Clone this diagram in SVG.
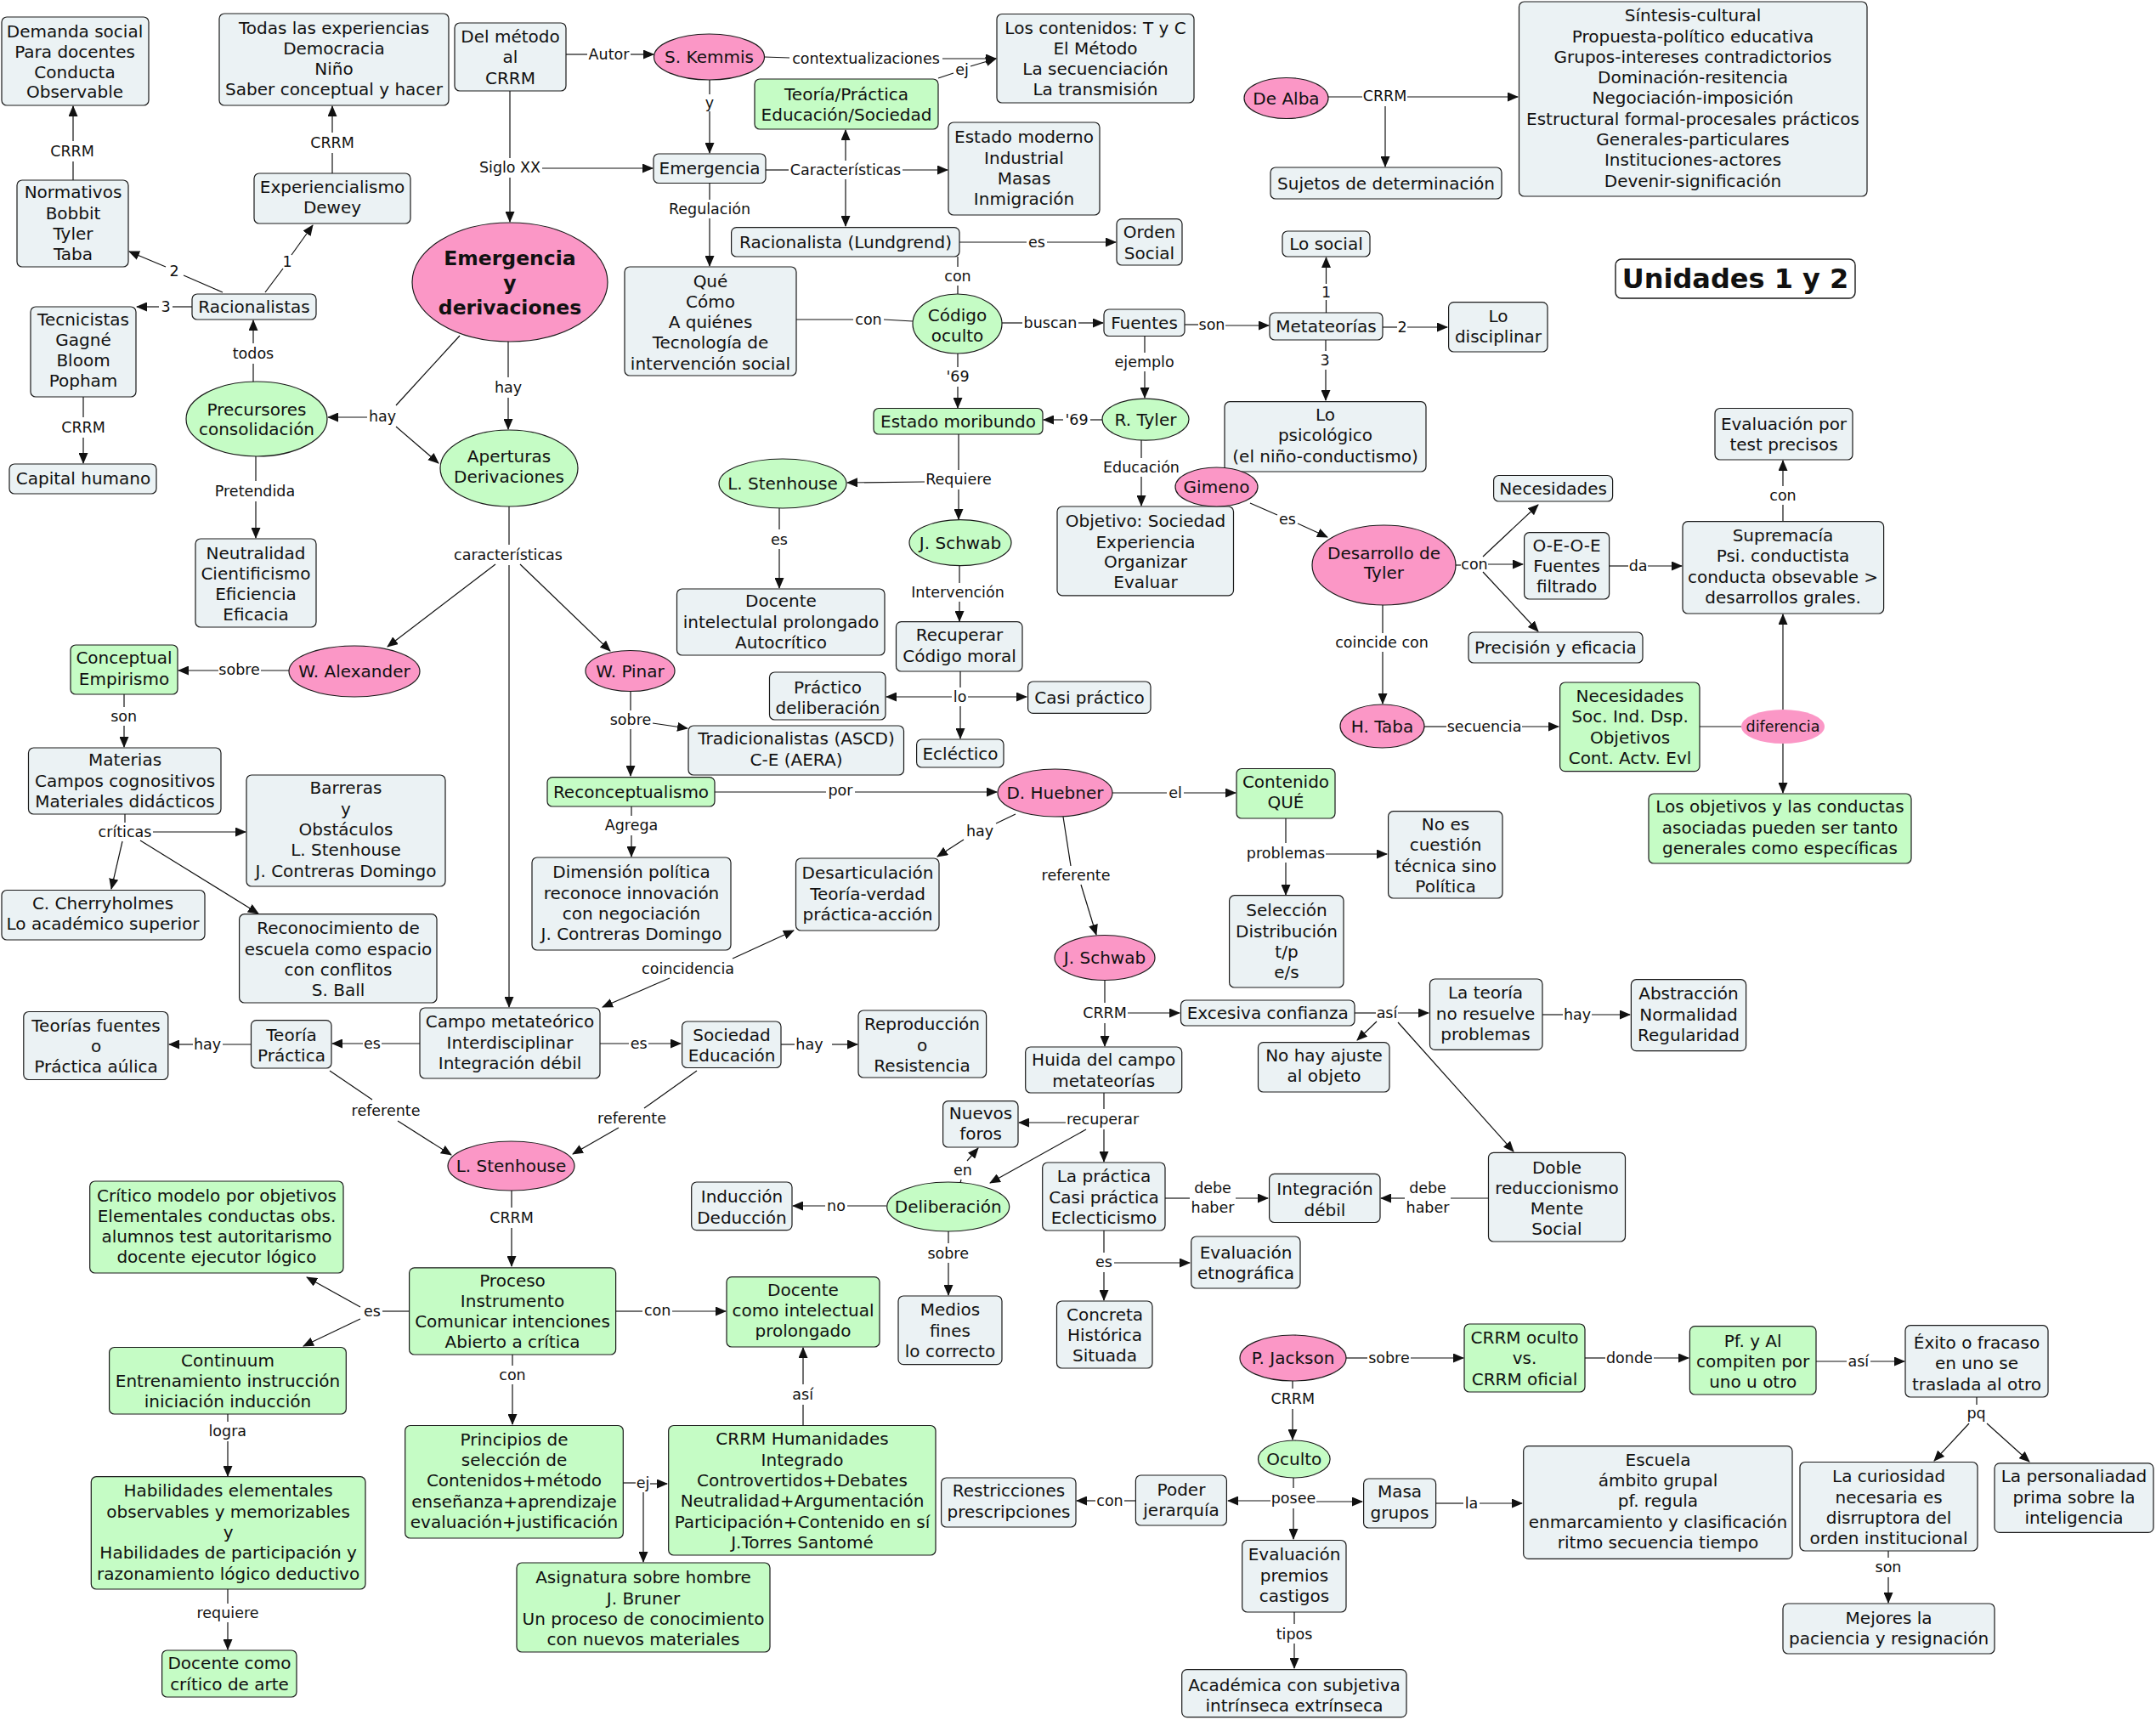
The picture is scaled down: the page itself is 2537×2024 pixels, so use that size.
<svg xmlns="http://www.w3.org/2000/svg" width="2537" height="2024" viewBox="0 0 2537 2024">
<defs>
<style>
.c{fill:#ebf2f4;stroke:#1a1a1a;stroke-width:1.2}
.g{fill:#c5fcc5;stroke:#1a1a1a;stroke-width:1.2}
.p{fill:#fb97c6;stroke:#1a1a1a;stroke-width:1.2}
.w{fill:#ffffff;stroke:#1a1a1a;stroke-width:1.4}
text{font-family:"DejaVu Sans",Verdana,sans-serif;fill:#111}
.t{font-size:20px;text-anchor:middle}
.b{font-size:23.5px;font-weight:bold;text-anchor:middle}
.l{font-size:17.5px;text-anchor:middle}
#connectors path{fill:none;stroke:#111;stroke-width:1.2}
#connectors path.a{marker-end:url(#ah)}
</style>
<marker id="ah" markerUnits="userSpaceOnUse" markerWidth="13" markerHeight="11" refX="12" refY="5.5" orient="auto"><path d="M0,0 L13,5.5 L0,11 z" fill="#111"/></marker>
</defs>
<rect width="2537" height="2024" fill="#fff"/>

<g id="connectors">
<path d="M86,212 L86,190"/><path class="a" d="M86,166 L86,125"/>
<path d="M391,204 L391,180"/><path class="a" d="M391,156 L391,125"/>
<path d="M312,344 L333,316"/><path class="a" d="M343,300 L368,265"/>
<path d="M262,344 L216,324"/><path class="a" d="M195,314 L152,296"/>
<path d="M226,361 L203,361"/><path class="a" d="M187,361 L161,361"/>
<path d="M98,467 L98,491"/><path class="a" d="M98,515 L98,545"/>
<path d="M298,449 L298,428"/><path class="a" d="M298,404 L298,377"/>
<path d="M301,537 L301,566"/><path class="a" d="M301,590 L301,633"/>
<path d="M600,107 L600,186"/><path class="a" d="M600,209 L600,261"/><path class="a" d="M638,198 L768,198"/>
<path d="M541,395 L466,477"/><path class="a" d="M432,491 L386,491"/><path class="a" d="M466,502 L516,545"/>
<path d="M598,402 L598,444"/><path class="a" d="M598,468 L598,505"/>
<path d="M599,596 L599,641"/><path class="a" d="M583,664 L456,761"/><path class="a" d="M599,665 L599,1185"/><path class="a" d="M612,664 L718,766"/>
<path d="M666,64 L691,64"/><path class="a" d="M742,64 L769,64"/>
<path d="M899,67 L929,68"/><path class="a" d="M1109,69 L1172,69"/>
<path d="M1104,92 L1122,86"/><path class="a" d="M1142,78 L1172,69"/>
<path d="M835,94 L835,111"/><path class="a" d="M835,131 L835,180"/>
<path d="M901,200 L928,200"/><path class="a" d="M1062,200 L1115,200"/><path class="a" d="M995,189 L995,153"/><path class="a" d="M995,211 L995,266"/>
<path d="M835,216 L835,235"/><path class="a" d="M835,257 L835,313"/>
<path d="M1129,285 L1208,285"/><path class="a" d="M1232,285 L1313,285"/>
<path d="M1127,302 L1127,314"/><path d="M1127,336 L1127,346"/>
<path d="M937,376 L1004,376"/><path d="M1040,376 L1074,378"/>
<path d="M1179,380 L1203,380"/><path class="a" d="M1269,380 L1298,380"/>
<path d="M1127,416 L1127,432"/><path class="a" d="M1127,455 L1127,480"/>
<path d="M1297,494 L1283,494"/><path class="a" d="M1251,494 L1228,494"/>
<path d="M1128,511 L1128,553"/><path class="a" d="M1088,567 L997,568"/><path class="a" d="M1128,576 L1128,611"/>
<path d="M917,598 L917,623"/><path class="a" d="M917,646 L917,692"/>
<path d="M1129,666 L1129,686"/><path class="a" d="M1129,708 L1129,731"/>
<path d="M1130,790 L1130,809"/><path class="a" d="M1120,820 L1043,820"/><path class="a" d="M1139,820 L1208,820"/><path class="a" d="M1130,831 L1130,869"/>
<path d="M1563,114 L1603,114"/><path class="a" d="M1656,114 L1786,114"/><path class="a" d="M1630,125 L1630,196"/>
<path d="M1560.5,368 L1560.5,353"/><path class="a" d="M1560.5,334 L1560.5,303"/>
<path d="M1394,382 L1410,382"/><path class="a" d="M1442,383 L1493,383"/>
<path d="M1627,385 L1644,385"/><path class="a" d="M1656,385 L1703,385"/>
<path d="M1560,400 L1560,413"/><path class="a" d="M1560,435 L1560,471"/>
<path d="M1347,396 L1347,415"/><path class="a" d="M1347,437 L1347,468"/>
<path d="M1343,518 L1343,539"/><path class="a" d="M1343,561 L1343,595"/>
<path d="M1471,592 L1503,606"/><path class="a" d="M1527,616 L1562,632"/>
<path d="M1713,665 L1719,665"/><path class="a" d="M1745,655 L1810,594"/><path class="a" d="M1751,664 L1792,664"/><path class="a" d="M1745,673 L1810,743"/>
<path d="M1894,666 L1916,666"/><path class="a" d="M1939,666 L1979,666"/>
<path d="M2098,613 L2098,594"/><path class="a" d="M2098,572 L2098,542"/>
<path d="M1627,712 L1627,745"/><path class="a" d="M1627,767 L1627,828"/>
<path d="M1676,855 L1702,855"/><path class="a" d="M1791,855 L1834,855"/>
<path d="M2000,855 L2049,855"/><path class="a" d="M2098,835 L2098,723"/><path class="a" d="M2098,875 L2098,933"/>
<path d="M340,789 L307,789"/><path class="a" d="M257,789 L210,789"/>
<path d="M146,817 L146,832"/><path class="a" d="M146,854 L146,879"/>
<path d="M147,958 L147,968"/><path class="a" d="M180,979 L289,979"/><path class="a" d="M144,990 L131,1046"/><path class="a" d="M165,989 L304,1075"/>
<path d="M494,1228 L449,1228"/><path class="a" d="M427,1228 L391,1228"/>
<path d="M295,1229 L262,1229"/><path class="a" d="M227,1229 L199,1229"/>
<path d="M388,1260 L438,1294"/><path class="a" d="M468,1319 L531,1359"/>
<path d="M742,813 L742,836"/><path class="a" d="M742,858 L742,913"/><path class="a" d="M768,851 L809,857"/>
<path d="M841,932 L972,932"/><path class="a" d="M1006,932 L1173,932"/>
<path d="M1309,933 L1373,933"/><path class="a" d="M1393,933 L1454,933"/>
<path d="M743,949 L743,960"/><path class="a" d="M743,983 L743,1008"/>
<path d="M1195,958 L1172,969"/><path class="a" d="M1134,988 L1103,1008"/>
<path d="M1251,961 L1260,1019"/><path class="a" d="M1272,1041 L1290,1100"/>
<path class="a" d="M862,1128 L934,1095"/><path class="a" d="M788,1151 L709,1185"/>
<path d="M706,1228 L740,1228"/><path class="a" d="M763,1228 L801,1228"/>
<path d="M919,1229 L935,1229"/><path class="a" d="M979,1229 L1009,1229"/>
<path d="M820,1260 L758,1304"/><path class="a" d="M728,1327 L674,1358"/>
<path d="M1513,963 L1513,992"/><path class="a" d="M1560,1005 L1632,1005"/><path class="a" d="M1513,1015 L1513,1053"/>
<path d="M1300,1153 L1300,1180"/><path class="a" d="M1327,1192 L1388,1192"/><path class="a" d="M1300,1204 L1300,1231"/>
<path d="M1594,1192 L1619,1192"/><path class="a" d="M1645,1192 L1681,1192"/><path class="a" d="M1620,1202 L1597,1224"/><path class="a" d="M1645,1203 L1781,1355"/>
<path d="M1815,1194 L1839,1194"/><path class="a" d="M1873,1194 L1918,1194"/>
<path d="M1299,1286 L1299,1305"/><path class="a" d="M1254,1321 L1199,1321"/><path class="a" d="M1299,1329 L1299,1367"/><path class="a" d="M1278,1329 L1165,1392"/>
<path d="M1130,1392 L1131,1388"/><path class="a" d="M1138,1366 L1151,1351"/>
<path d="M1043,1419 L997,1419"/><path class="a" d="M971,1419 L933,1419"/>
<path d="M1116,1449 L1116,1463"/><path class="a" d="M1116,1486 L1116,1524"/>
<path d="M1371,1410 L1400,1410"/><path class="a" d="M1454,1410 L1492,1410"/>
<path d="M1751,1410 L1707,1410"/><path class="a" d="M1653,1410 L1625,1410"/>
<path d="M1299,1448 L1299,1474"/><path class="a" d="M1311,1486 L1400,1486"/><path class="a" d="M1299,1497 L1299,1530"/>
<path d="M602,1401 L602,1421"/><path class="a" d="M602,1445 L602,1490"/>
<path d="M481,1543 L450,1543"/><path class="a" d="M424,1538 L361,1503"/><path class="a" d="M424,1552 L357,1584"/>
<path d="M725,1543 L756,1543"/><path class="a" d="M791,1543 L854,1543"/>
<path d="M603,1594 L603,1607"/><path class="a" d="M603,1629 L603,1676"/>
<path d="M268,1664 L268,1673"/><path class="a" d="M268,1696 L268,1737"/>
<path d="M268,1870 L268,1887"/><path class="a" d="M268,1909 L268,1941"/>
<path d="M945,1677 L945,1653"/><path class="a" d="M945,1629 L945,1586"/>
<path d="M733,1745 L748,1745"/><path class="a" d="M765,1746 L785,1746"/><path class="a" d="M757,1756 L757,1838"/>
<path d="M1584,1598 L1609,1598"/><path class="a" d="M1660,1598 L1722,1598"/>
<path d="M1865,1598 L1889,1598"/><path class="a" d="M1946,1598 L1987,1598"/>
<path d="M2137,1602 L2173,1602"/><path class="a" d="M2201,1602 L2241,1602"/>
<path d="M2326,1644 L2326,1653"/><path class="a" d="M2317,1675 L2276,1719"/><path class="a" d="M2338,1675 L2388,1720"/>
<path d="M2222,1825 L2222,1833"/><path class="a" d="M2222,1856 L2222,1886"/>
<path d="M1521,1625 L1521,1634"/><path class="a" d="M1521,1658 L1521,1694"/>
<path d="M1522,1739 L1522,1751"/><path class="a" d="M1495,1766 L1445,1766"/><path class="a" d="M1549,1767 L1603,1767"/><path class="a" d="M1522,1775 L1522,1811"/>
<path d="M1336,1766 L1323,1766"/><path class="a" d="M1289,1766 L1267,1766"/>
<path d="M1690,1769 L1722,1769"/><path class="a" d="M1741,1769 L1791,1769"/>
<path d="M1523,1897 L1523,1911"/><path class="a" d="M1523,1934 L1523,1963"/>
<g class="labels">
<text class="l" x="85" y="184">CRRM</text>
<text class="l" x="391" y="174">CRRM</text>
<text class="l" x="338" y="314">1</text>
<text class="l" x="205" y="325">2</text>
<text class="l" x="195" y="367">3</text>
<text class="l" x="98" y="509">CRRM</text>
<text class="l" x="298" y="422">todos</text>
<text class="l" x="300" y="584">Pretendida</text>
<text class="l" x="600" y="203">Siglo XX</text>
<text class="l" x="450" y="496">hay</text>
<text class="l" x="598" y="462">hay</text>
<text class="l" x="598" y="659">características</text>
<text class="l" x="716.5" y="70">Autor</text>
<text class="l" x="1019" y="75">contextualizaciones</text>
<text class="l" x="1132" y="88">ej</text>
<text class="l" x="835" y="127">y</text>
<text class="l" x="995" y="206">Características</text>
<text class="l" x="835" y="252">Regulación</text>
<text class="l" x="1220" y="291">es</text>
<text class="l" x="1127" y="331">con</text>
<text class="l" x="1022" y="382">con</text>
<text class="l" x="1236" y="386">buscan</text>
<text class="l" x="1127" y="449">'69</text>
<text class="l" x="1267" y="500">'69</text>
<text class="l" x="1128" y="570">Requiere</text>
<text class="l" x="917" y="640.5">es</text>
<text class="l" x="1127" y="703">Intervención</text>
<text class="l" x="1129.6" y="825.6">lo</text>
<text class="l" x="1629.5" y="119">CRRM</text>
<text class="l" x="1560.5" y="349.5">1</text>
<text class="l" x="1426" y="388">son</text>
<text class="l" x="1650" y="391">2</text>
<text class="l" x="1559" y="430">3</text>
<text class="l" x="1346.6" y="432">ejemplo</text>
<text class="l" x="1343" y="556">Educación</text>
<text class="l" x="1515" y="616.6">es</text>
<text class="l" x="1735" y="669.5">con</text>
<text class="l" x="1927.6" y="671.7">da</text>
<text class="l" x="2098" y="589">con</text>
<text class="l" x="1626" y="762">coincide con</text>
<text class="l" x="1746.6" y="861">secuencia</text>
<text class="l" x="281.6" y="794">sobre</text>
<text class="l" x="145.7" y="849">son</text>
<text class="l" x="147" y="985">críticas</text>
<text class="l" x="438" y="1234">es</text>
<text class="l" x="244" y="1235">hay</text>
<text class="l" x="454" y="1313">referente</text>
<text class="l" x="742" y="853">sobre</text>
<text class="l" x="989" y="936">por</text>
<text class="l" x="1383" y="939">el</text>
<text class="l" x="743" y="977">Agrega</text>
<text class="l" x="1153" y="984">hay</text>
<text class="l" x="1266" y="1036">referente</text>
<text class="l" x="809.6" y="1146">coincidencia</text>
<text class="l" x="751.6" y="1234">es</text>
<text class="l" x="952.4" y="1235">hay</text>
<text class="l" x="743.5" y="1321.5">referente</text>
<text class="l" x="1513" y="1009.5">problemas</text>
<text class="l" x="1300" y="1198">CRRM</text>
<text class="l" x="1632" y="1198">así</text>
<text class="l" x="1856" y="1200">hay</text>
<text class="l" x="1297.6" y="1323">recuperar</text>
<text class="l" x="1133" y="1383">en</text>
<text class="l" x="984" y="1425">no</text>
<text class="l" x="1115.7" y="1480.6">sobre</text>
<text class="l" x="1427" y="1404"><tspan x="1427" y="1404">debe</tspan><tspan x="1427" y="1427">haber</tspan></text>
<text class="l" x="1680" y="1404"><tspan x="1680" y="1404">debe</tspan><tspan x="1680" y="1427">haber</tspan></text>
<text class="l" x="1299" y="1491.4">es</text>
<text class="l" x="602" y="1439">CRRM</text>
<text class="l" x="438" y="1549.4">es</text>
<text class="l" x="773.7" y="1548">con</text>
<text class="l" x="603" y="1624">con</text>
<text class="l" x="267.8" y="1690.4">logra</text>
<text class="l" x="268" y="1904">requiere</text>
<text class="l" x="944.7" y="1647">así</text>
<text class="l" x="756.5" y="1750.6">ej</text>
<text class="l" x="1634.4" y="1604.4">sobre</text>
<text class="l" x="1917.4" y="1604.4">donde</text>
<text class="l" x="2186.8" y="1608">así</text>
<text class="l" x="2325.6" y="1669">pq</text>
<text class="l" x="2222" y="1850">son</text>
<text class="l" x="1521.3" y="1651.7">CRRM</text>
<text class="l" x="1522" y="1768.6">posee</text>
<text class="l" x="1306" y="1771.6">con</text>
<text class="l" x="1731.5" y="1775">la</text>
<text class="l" x="1523" y="1928.5">tipos</text>
</g>
</g>

<g id="n_demanda"><rect class="c" x="2" y="20" width="173" height="104" rx="6"/><text class="t"><tspan x="88" y="44">Demanda social</tspan><tspan x="88" y="68">Para docentes</tspan><tspan x="88" y="92">Conducta</tspan><tspan x="88" y="115">Observable</tspan></text></g>
<g id="n_todas"><rect class="c" x="258" y="16" width="270" height="108" rx="6"/><text class="t"><tspan x="393" y="39.5">Todas las experiencias</tspan><tspan x="393" y="63.5">Democracia</tspan><tspan x="393" y="88">Niño</tspan><tspan x="393" y="112">Saber conceptual y hacer</tspan></text></g>
<g id="n_delmetodo"><rect class="c" x="535" y="27" width="131" height="80" rx="6"/><text class="t"><tspan x="600.5" y="50">Del método</tspan><tspan x="600.5" y="74">al</tspan><tspan x="600.5" y="99">CRRM</tspan></text></g>
<g id="n_normativos"><rect class="c" x="20" y="212" width="131" height="102" rx="6"/><text class="t"><tspan x="86" y="233">Normativos</tspan><tspan x="86" y="258">Bobbit</tspan><tspan x="86" y="282">Tyler</tspan><tspan x="86" y="306">Taba</tspan></text></g>
<g id="n_exper"><rect class="c" x="299" y="204" width="184" height="59" rx="6"/><text class="t"><tspan x="391" y="227">Experiencialismo</tspan><tspan x="391" y="251">Dewey</tspan></text></g>
<g id="n_racion"><rect class="c" x="226" y="346" width="146" height="30" rx="6"/><text class="t" x="299" y="368">Racionalistas</text></g>
<g id="n_tecnic"><rect class="c" x="36" y="361" width="124" height="106" rx="6"/><text class="t"><tspan x="98" y="383">Tecnicistas</tspan><tspan x="98" y="407">Gagné</tspan><tspan x="98" y="431">Bloom</tspan><tspan x="98" y="455">Popham</tspan></text></g>
<g id="n_capital"><rect class="c" x="11" y="546" width="173" height="35" rx="6"/><text class="t" x="98" y="570">Capital humano</text></g>
<g id="n_precursores"><ellipse class="g" cx="302" cy="493" rx="83" ry="44"/><text class="t"><tspan x="302" y="488.5">Precursores</tspan><tspan x="302" y="512">consolidación</tspan></text></g>
<g id="n_neutral"><rect class="c" x="230" y="634" width="142" height="104" rx="6"/><text class="t"><tspan x="301" y="657.5">Neutralidad</tspan><tspan x="301" y="681.5">Cientificismo</tspan><tspan x="301" y="705.5">Eficiencia</tspan><tspan x="301" y="729.5">Eficacia</tspan></text></g>
<g id="n_emerg"><ellipse class="p" cx="600" cy="332" rx="115" ry="70"/><text class="b"><tspan x="600" y="312">Emergencia</tspan><tspan x="600" y="341">y</tspan><tspan x="600" y="370">derivaciones</tspan></text></g>
<g id="n_aperturas"><ellipse class="g" cx="599" cy="551" rx="81" ry="45"/><text class="t"><tspan x="599" y="543.5">Aperturas</tspan><tspan x="599" y="568">Derivaciones</tspan></text></g>
<g id="n_kemmis"><ellipse class="p" cx="834.5" cy="67" rx="65" ry="27"/><text class="t" x="834.5" y="74">S. Kemmis</text></g>
<g id="n_contenidos"><rect class="c" x="1173" y="16.5" width="232" height="104.5" rx="6"/><text class="t"><tspan x="1289" y="39.5">Los contenidos: T y C</tspan><tspan x="1289" y="63.5">El Método</tspan><tspan x="1289" y="88">La secuenciación</tspan><tspan x="1289" y="112">La transmisión</tspan></text></g>
<g id="n_teoria"><rect class="g" x="888" y="93" width="216" height="59" rx="6"/><text class="t"><tspan x="996" y="117.5">Teoría/Práctica</tspan><tspan x="996" y="141.5">Educación/Sociedad</tspan></text></g>
<g id="n_emergbox"><rect class="c" x="769" y="181" width="132" height="34.5" rx="6"/><text class="t" x="835" y="205">Emergencia</text></g>
<g id="n_estado"><rect class="c" x="1116" y="144" width="178" height="109" rx="6"/><text class="t"><tspan x="1205" y="168">Estado moderno</tspan><tspan x="1205" y="192.5">Industrial</tspan><tspan x="1205" y="217">Masas</tspan><tspan x="1205" y="241">Inmigración</tspan></text></g>
<g id="n_que"><rect class="c" x="735" y="314" width="202" height="128" rx="6"/><text class="t"><tspan x="836" y="337.5">Qué</tspan><tspan x="836" y="362">Cómo</tspan><tspan x="836" y="386">A quiénes</tspan><tspan x="836" y="410">Tecnología de</tspan><tspan x="836" y="434.5">intervención social</tspan></text></g>
<g id="n_racional"><rect class="c" x="860.6" y="267.6" width="268.4" height="34.4" rx="6"/><text class="t" x="995" y="292">Racionalista (Lundgrend)</text></g>
<g id="n_orden"><rect class="c" x="1314" y="257.6" width="77" height="54.4" rx="6"/><text class="t"><tspan x="1352.5" y="280">Orden</tspan><tspan x="1352.5" y="304.5">Social</tspan></text></g>
<g id="n_codigo"><ellipse class="g" cx="1126.5" cy="381" rx="52.5" ry="35"/><text class="t"><tspan x="1126.5" y="377.8">Código</tspan><tspan x="1126.5" y="401.7">oculto</tspan></text></g>
<g id="n_moribundo"><rect class="g" x="1028" y="480.5" width="199" height="30.5" rx="6"/><text class="t" x="1127.5" y="503">Estado moribundo</text></g>
<g id="n_stenh_g"><ellipse class="g" cx="921" cy="569" rx="75" ry="29"/><text class="t" x="921" y="576">L. Stenhouse</text></g>
<g id="n_schwab_g"><ellipse class="g" cx="1130" cy="638.6" rx="60" ry="27"/><text class="t" x="1130" y="645.6">J. Schwab</text></g>
<g id="n_dealba"><ellipse class="p" cx="1513.5" cy="115.5" rx="49.5" ry="24"/><text class="t" x="1513.5" y="122.5">De Alba</text></g>
<g id="n_sujetos"><rect class="c" x="1495" y="197" width="272" height="37" rx="6"/><text class="t" x="1631" y="223">Sujetos de determinación</text></g>
<g id="n_sintesis"><rect class="c" x="1787.5" y="2" width="409.5" height="229" rx="6"/><text class="t"><tspan x="1992" y="25">Síntesis-cultural</tspan><tspan x="1992" y="49.5">Propuesta-político educativa</tspan><tspan x="1992" y="73.8">Grupos-intereses contradictorios</tspan><tspan x="1992" y="98">Dominación-resitencia</tspan><tspan x="1992" y="122.4">Negociación-imposición</tspan><tspan x="1992" y="146.6">Estructural formal-procesales prácticos</tspan><tspan x="1992" y="171">Generales-particulares</tspan><tspan x="1992" y="195">Instituciones-actores</tspan><tspan x="1992" y="219.5">Devenir-significación</tspan></text></g>
<g id="n_losocial"><rect class="c" x="1509" y="272" width="103" height="30" rx="6"/><text class="t" x="1560.5" y="294">Lo social</text></g>
<g id="n_fuentes"><rect class="c" x="1299" y="364" width="95" height="31.5" rx="6"/><text class="t" x="1346.5" y="387">Fuentes</text></g>
<g id="n_metateorias"><rect class="c" x="1494" y="368" width="133" height="32" rx="6"/><text class="t" x="1560.5" y="391">Metateorías</text></g>
<g id="n_disciplinar"><rect class="c" x="1704.6" y="355.6" width="116.4" height="58.4" rx="6"/><text class="t"><tspan x="1763" y="378.7">Lo</tspan><tspan x="1763" y="402.5">disciplinar</tspan></text></g>
<g id="n_psico"><rect class="c" x="1441" y="472.7" width="237" height="82.3" rx="6"/><text class="t"><tspan x="1559.5" y="495">Lo</tspan><tspan x="1559.5" y="519">psicológico</tspan><tspan x="1559.5" y="543.5">(el niño-conductismo)</tspan></text></g>
<g id="n_rtyler"><ellipse class="g" cx="1348" cy="493.6" rx="51" ry="24.5"/><text class="t" x="1348" y="500.6">R. Tyler</text></g>
<g id="n_objetivo"><rect class="c" x="1244" y="596" width="207.5" height="104.8" rx="6"/><text class="t"><tspan x="1348" y="620">Objetivo: Sociedad</tspan><tspan x="1348" y="644.5">Experiencia</tspan><tspan x="1348" y="668.4">Organizar</tspan><tspan x="1348" y="692.4">Evaluar</tspan></text></g>
<g id="n_gimeno"><ellipse class="p" cx="1431.5" cy="573" rx="48.5" ry="23"/><text class="t" x="1431.5" y="580">Gimeno</text></g>
<g id="n_desarrollo"><ellipse class="p" cx="1628.5" cy="665" rx="84.5" ry="47"/><text class="t"><tspan x="1628.5" y="657.5">Desarrollo de</tspan><tspan x="1628.5" y="681.4">Tyler</tspan></text></g>
<g id="n_necesidades"><rect class="c" x="1757.6" y="559.5" width="140" height="30.5" rx="6"/><text class="t" x="1827.6" y="582">Necesidades</text></g>
<g id="n_oeoe"><rect class="c" x="1793.6" y="626.7" width="100" height="78.3" rx="6"/><text class="t"><tspan x="1843.6" y="649">O-E-O-E</tspan><tspan x="1843.6" y="672.7">Fuentes</tspan><tspan x="1843.6" y="697">filtrado</tspan></text></g>
<g id="n_supremacia"><rect class="c" x="1980" y="613.7" width="236.6" height="108.3" rx="6"/><text class="t"><tspan x="2098" y="636.7">Supremacía</tspan><tspan x="2098" y="661">Psi. conductista</tspan><tspan x="2098" y="685.8">conducta obsevable &gt;</tspan><tspan x="2098" y="710">desarrollos grales.</tspan></text></g>
<g id="n_evaltest"><rect class="c" x="2018" y="480.5" width="162" height="60.5" rx="6"/><text class="t"><tspan x="2099" y="505.8">Evaluación por</tspan><tspan x="2099" y="529.6">test precisos</tspan></text></g>
<g id="n_unidades"><rect class="w" x="1901" y="305" width="282" height="46" rx="7"/><text style="font-size:32px;font-weight:bold;text-anchor:middle" x="2042" y="339">Unidades 1 y 2</text></g>
<g id="n_precision"><rect class="c" x="1728" y="744" width="205" height="36" rx="6"/><text class="t" x="1830.5" y="769">Precisión y eficacia</text></g>
<g id="n_htaba"><ellipse class="p" cx="1626.5" cy="854.5" rx="49.5" ry="25.5"/><text class="t" x="1626.5" y="861.5">H. Taba</text></g>
<g id="n_necsoc"><rect class="g" x="1835.6" y="803" width="164.4" height="104.6" rx="6"/><text class="t"><tspan x="1918" y="825.7">Necesidades</tspan><tspan x="1918" y="850">Soc. Ind. Dsp.</tspan><tspan x="1918" y="875">Objetivos</tspan><tspan x="1918" y="899">Cont. Actv. Evl</tspan></text></g>
<g id="n_diferencia"><ellipse cx="2098" cy="855" rx="49" ry="20" fill="#fb97c6"/><text class="l" x="2098" y="861">diferencia</text></g>
<g id="n_losobjetivos"><rect class="g" x="1940" y="934" width="309" height="82" rx="6"/><text class="t"><tspan x="2094.5" y="956.4">Los objetivos y las conductas</tspan><tspan x="2094.5" y="980.6">asociadas pueden ser tanto</tspan><tspan x="2094.5" y="1004.8">generales como específicas</tspan></text></g>
<g id="n_walex"><ellipse class="p" cx="417" cy="790" rx="77" ry="30"/><text class="t" x="417" y="797">W. Alexander</text></g>
<g id="n_concept"><rect class="g" x="83" y="759" width="126" height="58" rx="6"/><text class="t"><tspan x="146" y="781">Conceptual</tspan><tspan x="146" y="805.5">Empirismo</tspan></text></g>
<g id="n_materias"><rect class="c" x="33.5" y="880" width="226.5" height="78" rx="6"/><text class="t"><tspan x="147" y="901.4">Materias</tspan><tspan x="147" y="926">Campos cognositivos</tspan><tspan x="147" y="950">Materiales didácticos</tspan></text></g>
<g id="n_barreras"><rect class="c" x="290" y="912" width="234" height="131" rx="6"/><text class="t"><tspan x="407" y="934">Barreras</tspan><tspan x="407" y="958.6">y</tspan><tspan x="407" y="982.8">Obstáculos</tspan><tspan x="407" y="1007">L. Stenhouse</tspan><tspan x="407" y="1031.6">J. Contreras Domingo</tspan></text></g>
<g id="n_cherry"><rect class="c" x="2" y="1047.5" width="239" height="58.5" rx="6"/><text class="t"><tspan x="121" y="1070">C. Cherryholmes</tspan><tspan x="121" y="1094">Lo académico superior</tspan></text></g>
<g id="n_reconoc"><rect class="c" x="281.6" y="1075.7" width="232.4" height="104.3" rx="6"/><text class="t"><tspan x="398" y="1099">Reconocimiento de</tspan><tspan x="398" y="1123.6">escuela como espacio</tspan><tspan x="398" y="1148">con conflitos</tspan><tspan x="398" y="1172">S. Ball</tspan></text></g>
<g id="n_campo"><rect class="c" x="494" y="1186" width="212" height="83" rx="6"/><text class="t"><tspan x="600" y="1209">Campo metateórico</tspan><tspan x="600" y="1233.6">Interdisciplinar</tspan><tspan x="600" y="1258">Integración débil</tspan></text></g>
<g id="n_teoprac"><rect class="c" x="295.5" y="1200.6" width="94.5" height="56.4" rx="6"/><text class="t"><tspan x="343" y="1225">Teoría</tspan><tspan x="343" y="1249">Práctica</tspan></text></g>
<g id="n_teofuentes"><rect class="c" x="27.8" y="1190.5" width="170" height="80" rx="6"/><text class="t"><tspan x="113" y="1214">Teorías fuentes</tspan><tspan x="113" y="1238">o</tspan><tspan x="113" y="1262">Práctica aúlica</tspan></text></g>
<g id="n_docente1"><rect class="c" x="796.5" y="693" width="244.5" height="78" rx="6"/><text class="t"><tspan x="919" y="714.4">Docente</tspan><tspan x="919" y="739">intelectulal prolongado</tspan><tspan x="919" y="763">Autocrítico</tspan></text></g>
<g id="n_recuperar"><rect class="c" x="1054.5" y="731.6" width="148.5" height="58.4" rx="6"/><text class="t"><tspan x="1129" y="754.4">Recuperar</tspan><tspan x="1129" y="778.6">Código moral</tspan></text></g>
<g id="n_wpinar"><ellipse class="p" cx="741.5" cy="789.5" rx="52.5" ry="24"/><text class="t" x="741.5" y="796.5">W. Pinar</text></g>
<g id="n_practico"><rect class="c" x="905.5" y="791" width="136.5" height="56" rx="6"/><text class="t"><tspan x="974" y="815.6">Práctico</tspan><tspan x="974" y="839.8">deliberación</tspan></text></g>
<g id="n_casi"><rect class="c" x="1209.6" y="802" width="144.4" height="37.4" rx="6"/><text class="t" x="1282" y="827.7">Casi práctico</text></g>
<g id="n_eclectico"><rect class="c" x="1078.6" y="870" width="102.4" height="33" rx="6"/><text class="t" x="1130" y="893.7">Ecléctico</text></g>
<g id="n_tradic"><rect class="c" x="810" y="854" width="253.5" height="58" rx="6"/><text class="t"><tspan x="937" y="876">Tradicionalistas (ASCD)</tspan><tspan x="937" y="900.5">C-E (AERA)</tspan></text></g>
<g id="n_reconcept"><rect class="g" x="644" y="914.6" width="197" height="34.4" rx="6"/><text class="t" x="742.5" y="939">Reconceptualismo</text></g>
<g id="n_huebner"><ellipse class="p" cx="1241.5" cy="933" rx="67.5" ry="28"/><text class="t" x="1241.5" y="940">D. Huebner</text></g>
<g id="n_contenido"><rect class="g" x="1455" y="904.5" width="116" height="58.5" rx="6"/><text class="t"><tspan x="1513" y="927">Contenido</tspan><tspan x="1513" y="951">QUÉ</tspan></text></g>
<g id="n_dimension"><rect class="c" x="626" y="1009" width="234" height="109" rx="6"/><text class="t"><tspan x="743" y="1033">Dimensión política</tspan><tspan x="743" y="1057.6">reconoce innovación</tspan><tspan x="743" y="1082">con negociación</tspan><tspan x="743" y="1106">J. Contreras Domingo</tspan></text></g>
<g id="n_desartic"><rect class="c" x="936.5" y="1010" width="168.5" height="85" rx="6"/><text class="t"><tspan x="1021" y="1034">Desarticulación</tspan><tspan x="1021" y="1058.5">Teoría-verdad</tspan><tspan x="1021" y="1082.7">práctica-acción</tspan></text></g>
<g id="n_noes"><rect class="c" x="1633.6" y="954.7" width="134.4" height="102.3" rx="6"/><text class="t"><tspan x="1701" y="977">No es</tspan><tspan x="1701" y="1001">cuestión</tspan><tspan x="1701" y="1025.5">técnica sino</tspan><tspan x="1701" y="1050">Política</tspan></text></g>
<g id="n_seleccion"><rect class="c" x="1446.6" y="1053.7" width="134.4" height="108.3" rx="6"/><text class="t"><tspan x="1514" y="1078">Selección</tspan><tspan x="1514" y="1102.5">Distribución</tspan><tspan x="1514" y="1127">t/p</tspan><tspan x="1514" y="1151">e/s</tspan></text></g>
<g id="n_schwab_p"><ellipse class="p" cx="1300" cy="1127" rx="59" ry="26.5"/><text class="t" x="1300" y="1134">J. Schwab</text></g>
<g id="n_excesiva"><rect class="c" x="1389.5" y="1177" width="204.5" height="30" rx="6"/><text class="t" x="1491.7" y="1199">Excesiva confianza</text></g>
<g id="n_lateoria"><rect class="c" x="1682.5" y="1152" width="132.5" height="83.4" rx="6"/><text class="t"><tspan x="1748" y="1175">La teoría</tspan><tspan x="1748" y="1199.7">no resuelve</tspan><tspan x="1748" y="1224">problemas</tspan></text></g>
<g id="n_abstraccion"><rect class="c" x="1919.4" y="1152.7" width="135.2" height="84" rx="6"/><text class="t"><tspan x="1987" y="1176.4">Abstracción</tspan><tspan x="1987" y="1200.6">Normalidad</tspan><tspan x="1987" y="1224.8">Regularidad</tspan></text></g>
<g id="n_nohay"><rect class="c" x="1480.5" y="1226.6" width="154.5" height="58.4" rx="6"/><text class="t"><tspan x="1558" y="1249">No hay ajuste</tspan><tspan x="1558" y="1273">al objeto</tspan></text></g>
<g id="n_sociedad"><rect class="c" x="802.6" y="1202" width="116.4" height="54.5" rx="6"/><text class="t"><tspan x="861" y="1225">Sociedad</tspan><tspan x="861" y="1249">Educación</tspan></text></g>
<g id="n_reprod"><rect class="c" x="1010" y="1189" width="150.6" height="79" rx="6"/><text class="t"><tspan x="1085" y="1212">Reproducción</tspan><tspan x="1085" y="1237">o</tspan><tspan x="1085" y="1261">Resistencia</tspan></text></g>
<g id="n_huida"><rect class="c" x="1206.7" y="1232" width="184" height="54" rx="6"/><text class="t"><tspan x="1298.7" y="1254">Huida del campo</tspan><tspan x="1298.7" y="1278.5">metateorías</tspan></text></g>
<g id="n_nuevos"><rect class="c" x="1109.6" y="1295.7" width="88.4" height="54.3" rx="6"/><text class="t"><tspan x="1154" y="1317">Nuevos</tspan><tspan x="1154" y="1341">foros</tspan></text></g>
<g id="n_lapractica"><rect class="c" x="1226.7" y="1368" width="144.3" height="80" rx="6"/><text class="t"><tspan x="1299" y="1391.4">La práctica</tspan><tspan x="1299" y="1416">Casi práctica</tspan><tspan x="1299" y="1439.5">Eclecticismo</tspan></text></g>
<g id="n_integracion"><rect class="c" x="1493.6" y="1381.4" width="130.4" height="57.1" rx="6"/><text class="t"><tspan x="1559" y="1406.4">Integración</tspan><tspan x="1559" y="1430.5">débil</tspan></text></g>
<g id="n_doble"><rect class="c" x="1751.5" y="1356.4" width="161" height="104.6" rx="6"/><text class="t"><tspan x="1832" y="1380.6">Doble</tspan><tspan x="1832" y="1405">reduccionismo</tspan><tspan x="1832" y="1428.8">Mente</tspan><tspan x="1832" y="1452.8">Social</tspan></text></g>
<g id="n_evaletno"><rect class="c" x="1401.7" y="1455" width="128.3" height="61" rx="6"/><text class="t"><tspan x="1466" y="1480.8">Evaluación</tspan><tspan x="1466" y="1505">etnográfica</tspan></text></g>
<g id="n_concreta"><rect class="c" x="1243.5" y="1531" width="112.5" height="79" rx="6"/><text class="t"><tspan x="1300" y="1554">Concreta</tspan><tspan x="1300" y="1578">Histórica</tspan><tspan x="1300" y="1602">Situada</tspan></text></g>
<g id="n_deliberacion"><ellipse class="g" cx="1115.7" cy="1420" rx="72" ry="29"/><text class="t" x="1115.7" y="1427">Deliberación</text></g>
<g id="n_induccion"><rect class="c" x="813.7" y="1391" width="118.3" height="56.6" rx="6"/><text class="t"><tspan x="873" y="1415">Inducción</tspan><tspan x="873" y="1439.5">Deducción</tspan></text></g>
<g id="n_medios"><rect class="c" x="1057" y="1525" width="122" height="80.7" rx="6"/><text class="t"><tspan x="1118" y="1548">Medios</tspan><tspan x="1118" y="1572.8">fines</tspan><tspan x="1118" y="1597">lo correcto</tspan></text></g>
<g id="n_stenh_p"><ellipse class="p" cx="601.5" cy="1372" rx="74.5" ry="29"/><text class="t" x="601.5" y="1379">L. Stenhouse</text></g>
<g id="n_proceso"><rect class="g" x="481.6" y="1491.8" width="243" height="102.2" rx="6"/><text class="t"><tspan x="603" y="1514">Proceso</tspan><tspan x="603" y="1538">Instrumento</tspan><tspan x="603" y="1562">Comunicar intenciones</tspan><tspan x="603" y="1586">Abierto a crítica</tspan></text></g>
<g id="n_critico"><rect class="g" x="105.7" y="1390" width="298.3" height="108" rx="6"/><text class="t"><tspan x="255" y="1413.7">Crítico modelo por objetivos</tspan><tspan x="255" y="1437.8">Elementales conductas obs.</tspan><tspan x="255" y="1462.3">alumnos test autoritarismo</tspan><tspan x="255" y="1486.4">docente ejecutor lógico</tspan></text></g>
<g id="n_continuum"><rect class="g" x="128.6" y="1585.5" width="278.7" height="78.5" rx="6"/><text class="t"><tspan x="268" y="1607.6">Continuum</tspan><tspan x="268" y="1632">Entrenamiento instrucción</tspan><tspan x="268" y="1656">iniciación inducción</tspan></text></g>
<g id="n_habilidades"><rect class="g" x="107.3" y="1737.7" width="322.7" height="132.3" rx="6"/><text class="t"><tspan x="268.6" y="1761">Habilidades elementales</tspan><tspan x="268.6" y="1785.5">observables y memorizables</tspan><tspan x="268.6" y="1809.6">y</tspan><tspan x="268.6" y="1834">Habilidades de participación y</tspan><tspan x="268.6" y="1858.6">razonamiento lógico deductivo</tspan></text></g>
<g id="n_doccritico"><rect class="g" x="190.6" y="1942" width="158.4" height="55" rx="6"/><text class="t"><tspan x="270" y="1964.3">Docente como</tspan><tspan x="270" y="1988.8">crítico de arte</tspan></text></g>
<g id="n_principios"><rect class="g" x="476.7" y="1677.5" width="256.6" height="132.5" rx="6"/><text class="t"><tspan x="605" y="1701">Principios de</tspan><tspan x="605" y="1725">selección de</tspan><tspan x="605" y="1749.4">Contenidos+método</tspan><tspan x="605" y="1774">enseñanza+aprendizaje</tspan><tspan x="605" y="1798.4">evaluación+justificación</tspan></text></g>
<g id="n_doccomo"><rect class="g" x="855" y="1502.6" width="180" height="82.4" rx="6"/><text class="t"><tspan x="945" y="1524.6">Docente</tspan><tspan x="945" y="1549">como intelectual</tspan><tspan x="945" y="1573">prolongado</tspan></text></g>
<g id="n_crrmhum"><rect class="g" x="786.7" y="1677.5" width="314.3" height="152.5" rx="6"/><text class="t"><tspan x="944" y="1700">CRRM Humanidades</tspan><tspan x="944" y="1724.5">Integrado</tspan><tspan x="944" y="1749">Controvertidos+Debates</tspan><tspan x="944" y="1773">Neutralidad+Argumentación</tspan><tspan x="944" y="1797.5">Participación+Contenido en sí</tspan><tspan x="944" y="1822">J.Torres Santomé</tspan></text></g>
<g id="n_asignatura"><rect class="g" x="608" y="1839" width="298" height="105" rx="6"/><text class="t"><tspan x="757" y="1863">Asignatura sobre hombre</tspan><tspan x="757" y="1888">J. Bruner</tspan><tspan x="757" y="1911.5">Un proceso de conocimiento</tspan><tspan x="757" y="1936">con nuevos materiales</tspan></text></g>
<g id="n_restric"><rect class="c" x="1107.6" y="1739" width="158.4" height="58" rx="6"/><text class="t"><tspan x="1187" y="1761">Restricciones</tspan><tspan x="1187" y="1785.5">prescripciones</tspan></text></g>
<g id="n_poder"><rect class="c" x="1336.4" y="1736" width="107" height="59" rx="6"/><text class="t"><tspan x="1390" y="1759.7">Poder</tspan><tspan x="1390" y="1783.8">jerarquía</tspan></text></g>
<g id="n_pjackson"><ellipse class="p" cx="1521.5" cy="1598" rx="62.5" ry="27"/><text class="t" x="1521.5" y="1605">P. Jackson</text></g>
<g id="n_oculto"><ellipse class="g" cx="1522.8" cy="1717" rx="42.3" ry="22"/><text class="t" x="1522.8" y="1724">Oculto</text></g>
<g id="n_masa"><rect class="c" x="1604.6" y="1740" width="85" height="58" rx="6"/><text class="t"><tspan x="1647" y="1762.3">Masa</tspan><tspan x="1647" y="1787">grupos</tspan></text></g>
<g id="n_escuela"><rect class="c" x="1792.7" y="1701.6" width="316.3" height="132.8" rx="6"/><text class="t"><tspan x="1951" y="1724.5">Escuela</tspan><tspan x="1951" y="1749">ámbito grupal</tspan><tspan x="1951" y="1773">pf. regula</tspan><tspan x="1951" y="1797.5">enmarcamiento y clasificación</tspan><tspan x="1951" y="1822">ritmo secuencia tiempo</tspan></text></g>
<g id="n_evalpremios"><rect class="c" x="1461.7" y="1812.5" width="122.3" height="84.5" rx="6"/><text class="t"><tspan x="1523" y="1836">Evaluación</tspan><tspan x="1523" y="1860.7">premios</tspan><tspan x="1523" y="1884.8">castigos</tspan></text></g>
<g id="n_academica"><rect class="c" x="1390.7" y="1964.6" width="264.3" height="56" rx="6"/><text class="t"><tspan x="1523" y="1989.7">Académica con subjetiva</tspan><tspan x="1523" y="2013.7">intrínseca extrínseca</tspan></text></g>
<g id="n_crrmoculto"><rect class="g" x="1723" y="1558" width="142" height="80" rx="6"/><text class="t"><tspan x="1794" y="1581">CRRM oculto</tspan><tspan x="1794" y="1605.4">vs.</tspan><tspan x="1794" y="1629.5">CRRM oficial</tspan></text></g>
<g id="n_pfyal"><rect class="g" x="1988.4" y="1560.6" width="148.6" height="80.4" rx="6"/><text class="t"><tspan x="2062.7" y="1584.8">Pf. y Al</tspan><tspan x="2062.7" y="1609">compiten por</tspan><tspan x="2062.7" y="1632.5">uno u otro</tspan></text></g>
<g id="n_exito"><rect class="c" x="2242" y="1559.7" width="168" height="84.3" rx="6"/><text class="t"><tspan x="2326" y="1587">Éxito o fracaso</tspan><tspan x="2326" y="1611.4">en uno se</tspan><tspan x="2326" y="1635.5">traslada al otro</tspan></text></g>
<g id="n_curiosidad"><rect class="c" x="2118" y="1720.5" width="209" height="104.5" rx="6"/><text class="t"><tspan x="2222.6" y="1744">La curiosidad</tspan><tspan x="2222.6" y="1768.7">necesaria es</tspan><tspan x="2222.6" y="1793">disrruptora del</tspan><tspan x="2222.6" y="1817">orden institucional</tspan></text></g>
<g id="n_personalidad"><rect class="c" x="2347" y="1721.8" width="187" height="81.6" rx="6"/><text class="t"><tspan x="2440.5" y="1744">La personaliadad</tspan><tspan x="2440.5" y="1768.7">prima sobre la</tspan><tspan x="2440.5" y="1793">inteligencia</tspan></text></g>
<g id="n_mejores"><rect class="c" x="2098" y="1887" width="249" height="59" rx="6"/><text class="t"><tspan x="2222.6" y="1910.6">Mejores la</tspan><tspan x="2222.6" y="1935">paciencia y resignación</tspan></text></g>
</svg>
